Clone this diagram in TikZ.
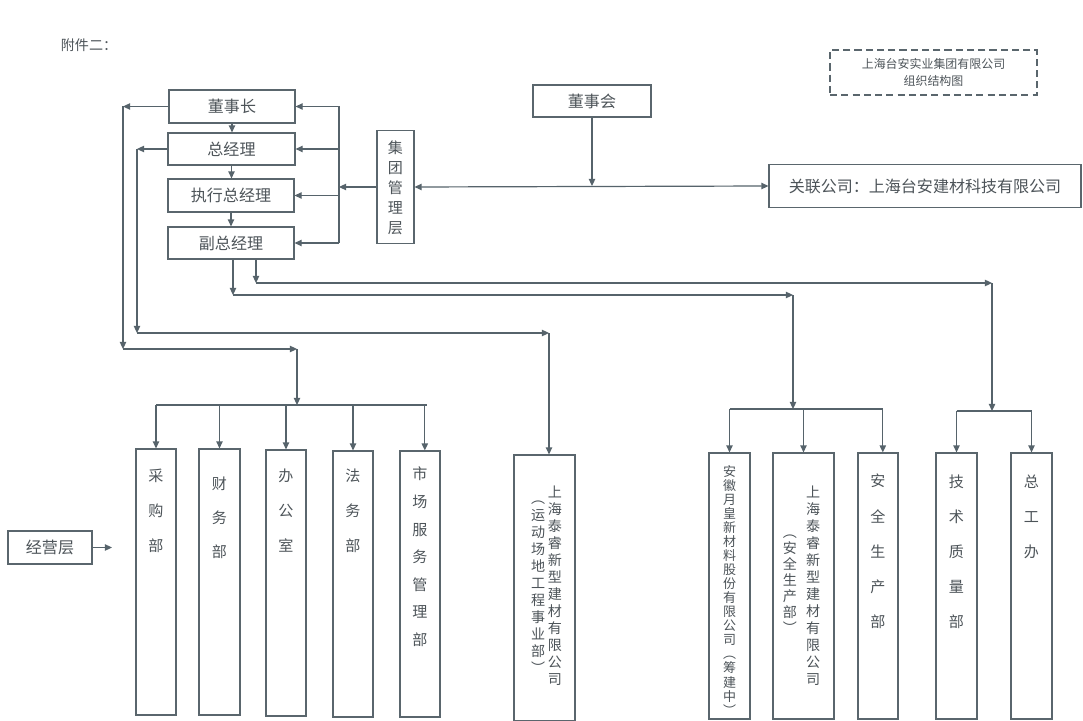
\documentclass[tikz,border=0pt]{standalone}
\usepackage{fontspec}
\newfontfamily\cjk{Noto Sans CJK SC}
\usetikzlibrary{arrows.meta, positioning}
\definecolor{orgInk}{HTML}{4D5459}
\definecolor{orgLine}{HTML}{56636B}
\definecolor{orgBox}{HTML}{5A666D}

\begin{document}
\begin{tikzpicture}[
        x=0.025cm,
        y=-0.025cm,
        >={Triangle[length=5pt, width=4.5pt]},
        font=\cjk,
        wh/.style 2 args={minimum width=#1*0.025cm, minimum height=#2*0.025cm},
        box/.style={rectangle, draw=orgBox, line width=0.8pt, fill=white,
                    text=orgInk, inner sep=0pt, align=center},
        topbox/.style={box, font=\cjk\fontsize{11.4}{14}\selectfont},
        dept/.style={box, wh={40}{266}},
        widedept/.style={box, wh={61}{266}},
        vcol/.style 2 args={text=orgInk, inner sep=0pt, align=center,
                            font=\cjk\fontsize{#1}{#2}\selectfont},
        arrow/.style={->, draw=orgLine, line width=0.85pt},
        dblarrow/.style={<->, draw=orgLine, line width=0.85pt},
        busline/.style={draw=orgLine, line width=0.85pt}
    ]
    \useasboundingbox (0,0) rectangle (1083,721);
    \fill[white] (0,0) rectangle (1083,721);

    % Heading and title
    \node[text=orgInk, font=\cjk\fontsize{10}{12}\selectfont] (fj) at (89,45) {附件二：};
    \node[box, dashed, dash pattern=on 5pt off 3pt, wh={207}{45},
          font=\cjk\fontsize{8.5}{12}\selectfont] (ttl) at (933.5,72.5)
          {上海台安实业集团有限公司\\组织结构图};

    % Group management
    \node[topbox, wh={126}{33}] (dsz)   at (232,106.5) {董事长};
    \node[topbox, wh={127}{32}] (zjl)   at (231.5,149) {总经理};
    \node[topbox, wh={126}{33}] (zxzjl) at (231,195.5) {执行总经理};
    \node[topbox, wh={126}{32}] (fzjl)  at (231,243)   {副总经理};
    \node[box, wh={37}{113}]    (jtglc) at (395.5,187) {};
    \node[vcol={10.7}{14.2}, below=0.27cm of jtglc.north] (jtglc-t) {集\\团\\管\\理\\层};
    \node[topbox, wh={118}{32}] (dsh)   at (592,101)   {董事会};
    \node[topbox, wh={312}{43}] (glgs)  at (925,186)   {关联公司：上海台安建材科技有限公司};
    \node[topbox, wh={84}{33}]  (jyc)   at (50,547.5)  {经营层};

    % Operating departments
    \node[dept]                 (cgb)  at (156,582)    {};
    \node[dept, wh={41}{266}]   (cwb)  at (219.5,582)  {};
    \node[dept]                 (bgs)  at (286,583)    {};
    \node[dept]                 (fwb)  at (353,584)    {};
    \node[dept]                 (scfw) at (420,584)    {};
    \node[widedept]             (tr1)  at (544.5,588)  {};
    \node[dept, wh={41}{266}]   (ah)   at (729.5,586)  {};
    \node[widedept]             (tr2)  at (803.5,586)  {};
    \node[dept]                 (aqsc) at (878,586)    {};
    \node[dept, wh={41}{266}]   (jszl) at (956.5,586)  {};
    \node[dept, wh={41}{266}]   (zgb)  at (1031.5,586) {};

    \node[vcol={10.7}{24.9}, below=0.51cm of cgb.north]  (cgb-t)  {采\\购\\部};
    \node[vcol={10.7}{24.2}, below=0.71cm of cwb.north]  (cwb-t)  {财\\务\\部};
    \node[vcol={10.7}{24.9}, below=0.49cm of bgs.north]  (bgs-t)  {办\\公\\室};
    \node[vcol={10.7}{24.9}, below=0.46cm of fwb.north]  (fwb-t)  {法\\务\\部};
    \node[vcol={10.7}{19.6}, below=0.41cm of scfw.north] (scfw-t) {市\\场\\服\\务\\管\\理\\部};
    \node[vcol={10}{12.1}, below=0.78cm of tr1.north, xshift=0.26cm] (tr1-a)
        {上\\海\\泰\\睿\\新\\型\\建\\材\\有\\限\\公\\司};
    \node[vcol={10}{12.1}, below=1.15cm of tr1.north, xshift=-0.16cm] (tr1-b)
        {︵\\运\\动\\场\\地\\工\\程\\事\\业\\部\\︶};
    \node[vcol={9.25}{10}, below=0.31cm of ah.north] (ah-t)
        {安\\徽\\月\\皇\\新\\材\\料\\股\\份\\有\\限\\公\\司\\︵\\筹\\建\\中\\︶};
    \node[vcol={10}{12.1}, below=0.83cm of tr2.north, xshift=0.24cm] (tr2-a)
        {上\\海\\泰\\睿\\新\\型\\建\\材\\有\\限\\公\\司};
    \node[vcol={10}{11.4}, below=2.05cm of tr2.north, xshift=-0.34cm] (tr2-b)
        {︵\\安\\全\\生\\产\\部\\︶};
    \node[vcol={10.7}{24.9}, below=0.54cm of aqsc.north] (aqsc-t) {安\\全\\生\\产\\部};
    \node[vcol={10.7}{24.9}, below=0.56cm of jszl.north] (jszl-t) {技\\术\\质\\量\\部};
    \node[vcol={10.7}{24.9}, below=0.56cm of zgb.north]  (zgb-t)  {总\\工\\办};

    % Chain of command
    \draw[arrow] (dsz.south) -- (dsz.south |- zjl.north);
    \draw[arrow] (zjl.south) -- (zjl.south |- zxzjl.north);
    \draw[arrow] (zxzjl.south) -- (zxzjl.south |- fzjl.north);

    % Group management layer bus
    \coordinate (rtop) at (339,106.5);
    \coordinate (rbot) at (339,243);
    \draw[busline] (rtop) -- (rbot);
    \draw[arrow] (rtop) -- (dsz.east);
    \draw[arrow] (rtop |- zjl.east) -- (zjl.east);
    \draw[arrow] (rtop |- zxzjl.east) -- (zxzjl.east);
    \draw[arrow] (rbot) -- (fzjl.east);
    \draw[arrow] (jtglc.west) -- (jtglc.west -| rtop);
    \draw[dblarrow] (jtglc.east) -- (glgs.west);
    \draw[arrow] (dsh.south) -- (dsh.south |- glgs.west);

    % Chairman to functional departments
    \coordinate (a1) at (123,106.5);
    \coordinate (a2) at (123,349);
    \coordinate (a3) at (297,349);
    \coordinate (a4) at (297,405);
    \draw[arrow] (dsz.west) -- (a1);
    \draw[arrow] (a1) -- (a2);
    \draw[arrow] (a2) -- (a3);
    \draw[arrow] (a3) -- (a4);
    \draw[busline] (a4 -| cgb.north) -- ([xshift=0.17cm]a4 -| scfw.north);
    \foreach \d in {cgb, cwb, bgs, fwb}
        \draw[arrow] (a4 -| \d.north) -- (\d.north);
    \draw[arrow] ([xshift=0.12cm]a4 -| scfw.north) -- ([xshift=0.12cm]scfw.north);

    % General manager to Tairui
    \coordinate (b1) at (137,149);
    \coordinate (b2) at (137,333);
    \coordinate (b3) at (549,333);
    \draw[arrow] (zjl.west) -- (b1);
    \draw[arrow] (b1) -- (b2);
    \draw[arrow] (b2) -- (b3);
    \draw[arrow] (b3) -- (b3 |- tr1.north);

    % Deputy general manager branches
    \coordinate (c1) at (233,295);
    \coordinate (c2) at (793,295);
    \coordinate (c3) at (793,409);
    \draw[arrow] (fzjl.south -| c1) -- (c1);
    \draw[arrow] (c1) -- (c2);
    \draw[arrow] (c2) -- (c3);
    \draw[busline] (c3 -| ah.north) -- ([xshift=0.12cm]c3 -| aqsc.north);
    \foreach \d in {ah, tr2}
        \draw[arrow] (c3 -| \d.north) -- (\d.north);
    \draw[arrow] ([xshift=0.12cm]c3 -| aqsc.north) -- ([xshift=0.12cm]aqsc.north);

    \coordinate (d1) at (256,283);
    \coordinate (d2) at (992,283);
    \coordinate (d3) at (992,411);
    \draw[arrow] (fzjl.south -| d1) -- (d1);
    \draw[arrow] (d1) -- (d2);
    \draw[arrow] (d2) -- (d3);
    \draw[busline] (d3 -| jszl.north) -- (d3 -| zgb.north);
    \foreach \d in {jszl, zgb}
        \draw[arrow] (d3 -| \d.north) -- (\d.north);

    % Operating layer marker
    \coordinate (j1) at (112,547.5);
    \draw[arrow] (jyc.east) -- (j1);

    \end{tikzpicture}
\end{document}
